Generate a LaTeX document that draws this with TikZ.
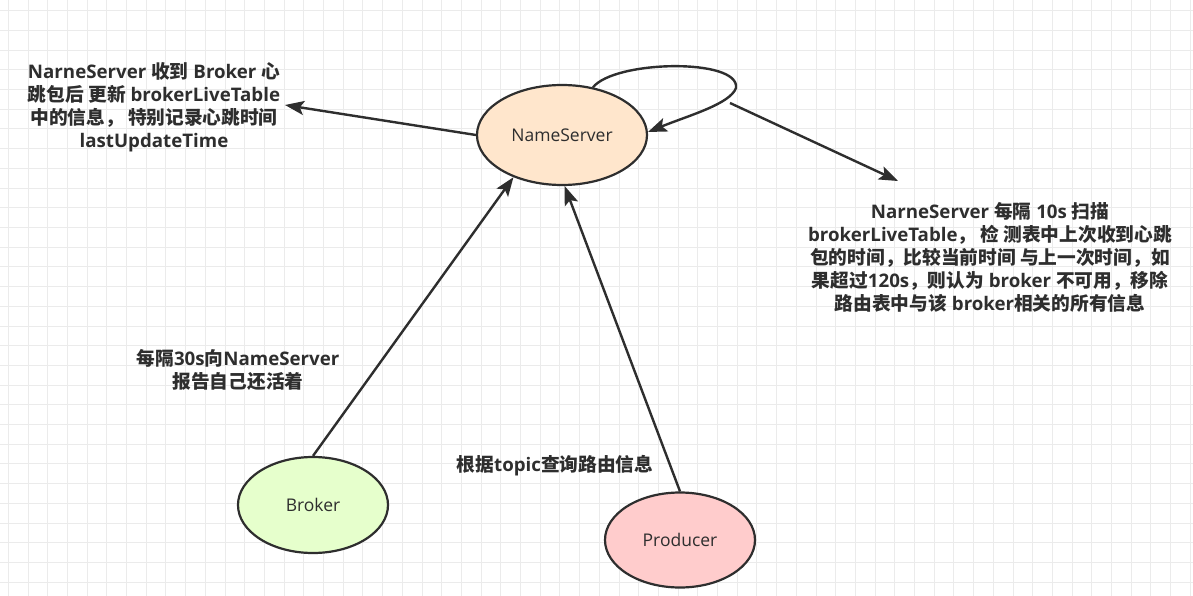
\documentclass[tikz,border=0pt]{standalone}
\usepackage{fontspec}
\setmainfont{Open Sans}
\newfontfamily\cjk{Noto Sans CJK SC}
\usetikzlibrary{arrows.meta,shapes.geometric}
\newcommand{\C}[1]{{\cjk #1}}
\definecolor{ink}{HTML}{2E2E2E}
\definecolor{gridc}{HTML}{EBEBEB}
\definecolor{nsfill}{HTML}{FFE6CC}
\definecolor{brfill}{HTML}{E6FFCC}
\definecolor{prfill}{HTML}{FFCCCC}
\tikzset{
  ent/.style={ellipse, draw=ink, line width=2.2pt, inner sep=0pt, text=ink, font=\fontsize{17.5}{21}\selectfont},
  note/.style={align=center, text=ink, font=\fontsize{18.7}{23}\selectfont\bfseries, inner sep=0pt},
  conn/.style={draw=ink, line width=2.4pt, -{Stealth[length=19pt,width=14pt,inset=4pt]}},
}
\begin{document}
\begin{tikzpicture}[x=1pt,y=-1pt]
\useasboundingbox (0,0) rectangle (1193,596);
\fill[white] (0,0) rectangle (1193,596);
\foreach \i in {0,...,60} {\draw[gridc, line width=1pt] (8.3+\i*19.7,0) -- (8.3+\i*19.7,596);}
\foreach \j in {0,...,30} {\draw[gridc, line width=1pt] (0,10.8+\j*19.7) -- (1193,10.8+\j*19.7);}

\node[ent, fill=nsfill, minimum width=170pt, minimum height=100pt] (ns) at (562,135) {NameServer};
\node[ent, fill=brfill, minimum width=150pt, minimum height=96pt] (br) at (313,505) {Broker};
\node[ent, fill=prfill, minimum width=150pt, minimum height=95pt] (pr) at (680,540) {Producer};

\node[note] (lt) at (154,107) {NarneServer \C{收到} Broker \C{心}\\ \C{跳包后 更新} brokerLiveTable\\ \C{中的信息， 特别记录心跳时间}\\ lastUpdateTime};
\node[note] (rt) at (990,257) {NarneServer \C{每隔} 10s \C{扫描}\\ brokerLiveTable\C{， 检 测表中上次收到心跳}\\ \C{包的时间，比较当前时间 与上一次时间，如}\\ \C{果超过}120s\C{，则认为} broker \C{不可用，移除}\\ \C{路由表中与该} broker\C{相关的所有信息}};
\node[note] (bt) at (238,370) {\C{每隔}30s\C{向}NameServer\\ \C{报告自己还活着}};
\node[note] (pt) at (555,466) {\C{根据}topic\C{查询路由信息}};

\coordinate (ltip) at (285,105);
\coordinate (rs) at (730,103);
\coordinate (rtip) at (898,181);
\coordinate (c1) at (615,60);
\coordinate (c2) at (740,58);
\coordinate (lp) at (736,88);
\coordinate (c3) at (730,104);
\coordinate (c4) at (690,115);

\draw[conn] (ns.west) -- (ltip);
\draw[conn] (rs) -- (rtip);
\draw[conn] (ns.57) .. controls (c1) and (c2) .. (lp) .. controls (c3) and (c4) .. (ns.2);
\draw[conn] (br.north) -- (ns.221);
\draw[conn] (pr.north) -- (ns.273);
\end{tikzpicture}
\end{document}
